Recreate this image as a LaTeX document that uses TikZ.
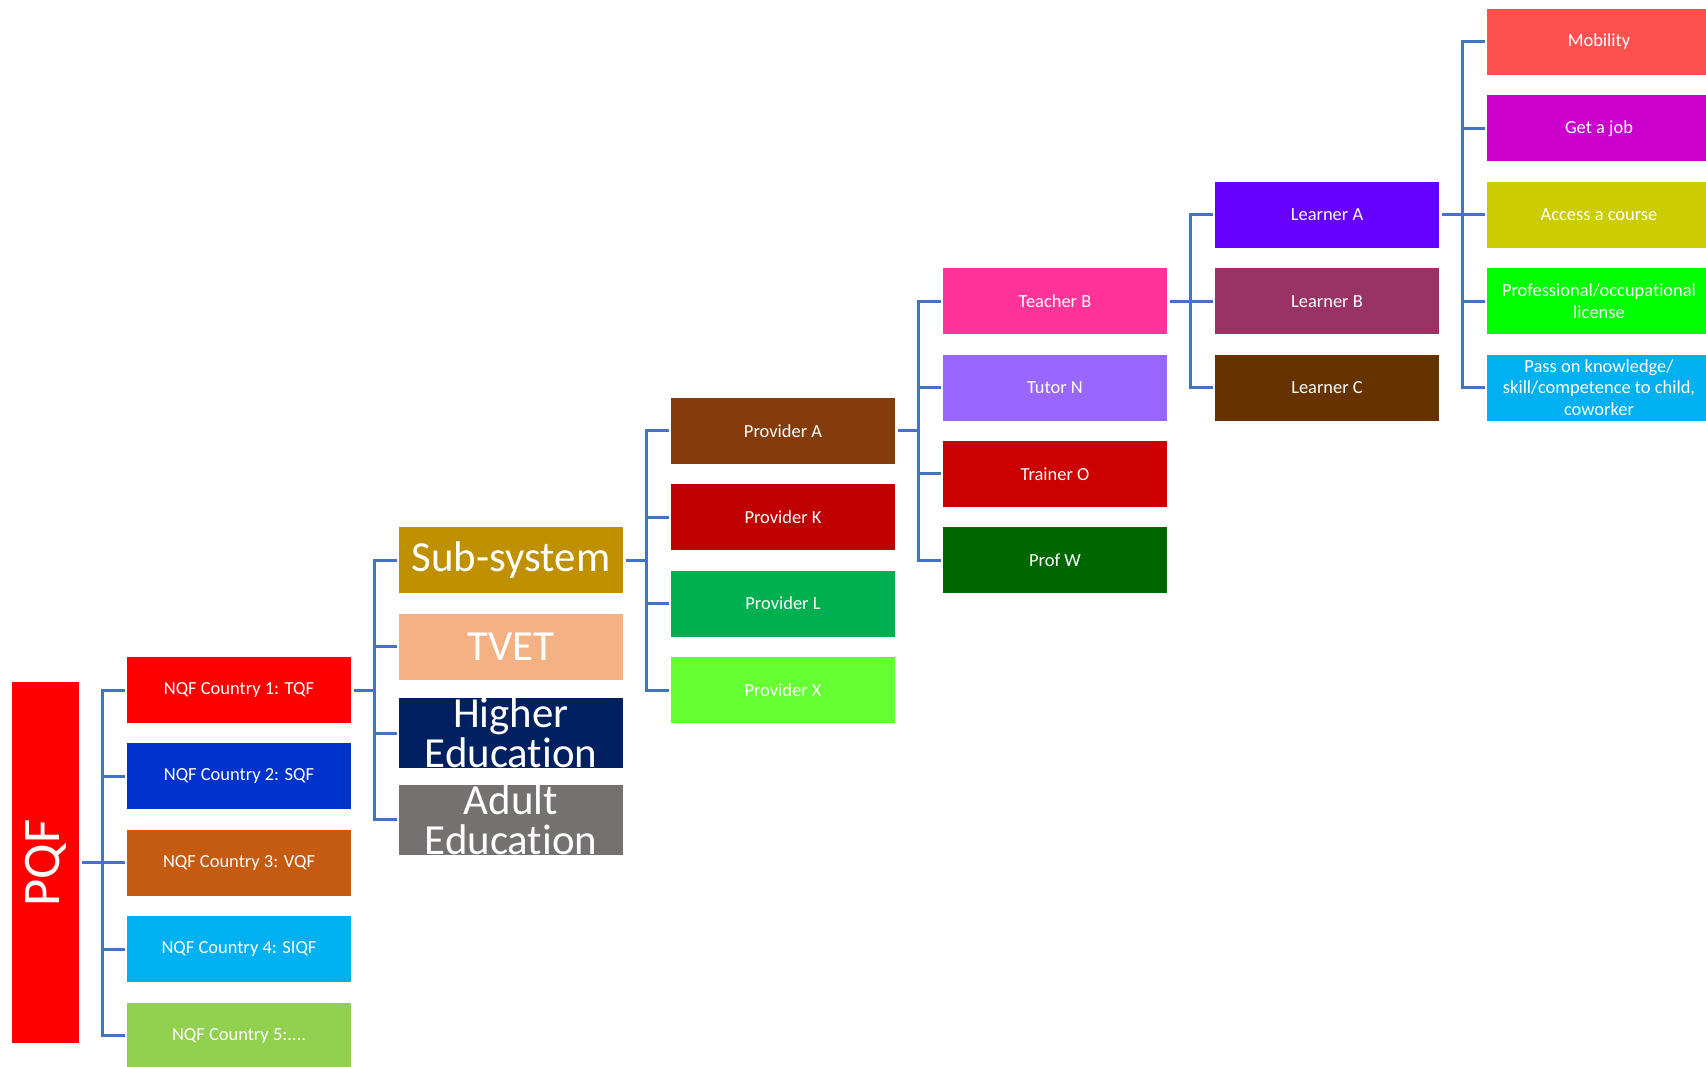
\documentclass[tikz,border=0pt]{standalone}
\usepackage{fontspec}
\setmainfont{Carlito}[Ligatures=NoCommon]
\usepackage{tikz}
\usetikzlibrary{calc}

\definecolor{linkblue}{HTML}{4472C4}

\begin{document}
\begin{tikzpicture}[x=1cm,y=1cm,
    box/.style={rectangle, inner sep=0pt, minimum width=4.48cm, minimum height=1.32cm, text=white, align=center, font=\fontsize{10.5}{12.3}\selectfont},
    bigbox/.style={box, font=\fontsize{24.4}{22.8}\selectfont},
    link/.style={draw=linkblue, line width=0.06cm}]
\useasboundingbox (0,0) rectangle (34.12,21.32);
% PQF
\node[fill={rgb,255:red,255;green,0;blue,0}, minimum width=1.34cm, minimum height=7.22cm, inner sep=0pt] (pqf) at (0.91,4.064) {};
\node[text=white, rotate=90, font=\fontsize{30}{30}\selectfont] at (pqf.center) {PQF};
% countries
\node[box, fill={rgb,255:red,255;green,0;blue,0}] (nqfA) at (4.78,7.52) {NQF Country 1: TQF};
\node[box, fill={rgb,255:red,0;green,51;blue,204}] (nqfB) at (4.78,5.792) {NQF Country 2: SQF};
\node[box, fill={rgb,255:red,197;green,90;blue,17}] (nqfC) at (4.78,4.064) {NQF Country 3: VQF};
\node[box, fill={rgb,255:red,0;green,176;blue,240}] (nqfD) at (4.78,2.336) {NQF Country 4: SIQF};
\node[box, fill={rgb,255:red,146;green,208;blue,80}] (nqfE) at (4.78,0.608) {NQF Country 5:....};
% sub-systems
\node[bigbox, fill={rgb,255:red,191;green,144;blue,0}] (subsys) at (10.22,10.112) {Sub-system};
\node[bigbox, fill={rgb,255:red,244;green,177;blue,131}] (tvet) at (10.22,8.384) {TVET};
\node[bigbox, fill={rgb,255:red,0;green,32;blue,96}] (higher) at (10.22,6.656) {Higher\\Education};
\node[bigbox, fill={rgb,255:red,118;green,113;blue,113}] (adult) at (10.22,4.928) {Adult\\Education};
% providers
\node[box, fill={rgb,255:red,132;green,60;blue,12}] (provA) at (15.66,12.704) {Provider A};
\node[box, fill={rgb,255:red,192;green,0;blue,0}] (provK) at (15.66,10.976) {Provider K};
\node[box, fill={rgb,255:red,0;green,176;blue,80}] (provL) at (15.66,9.248) {Provider L};
\node[box, fill={rgb,255:red,102;green,255;blue,51}] (provX) at (15.66,7.52) {Provider X};
% teachers
\node[box, fill={rgb,255:red,255;green,51;blue,153}] (teachB) at (21.10,15.296) {Teacher B};
\node[box, fill={rgb,255:red,153;green,102;blue,255}] (tutorN) at (21.10,13.568) {Tutor N};
\node[box, fill={rgb,255:red,204;green,0;blue,0}] (trainO) at (21.10,11.84) {Trainer O};
\node[box, fill={rgb,255:red,0;green,102;blue,0}] (profW) at (21.10,10.112) {Prof W};
% learners
\node[box, fill={rgb,255:red,102;green,0;blue,255}] (learnA) at (26.54,17.024) {Learner A};
\node[box, fill={rgb,255:red,153;green,51;blue,102}] (learnB) at (26.54,15.296) {Learner B};
\node[box, fill={rgb,255:red,102;green,51;blue,0}] (learnC) at (26.54,13.568) {Learner C};
% outcomes
\node[box, fill={rgb,255:red,255;green,80;blue,80}] (mobil) at (31.98,20.48) {Mobility};
\node[box, fill={rgb,255:red,204;green,0;blue,204}] (job) at (31.98,18.752) {Get a job};
\node[box, fill={rgb,255:red,204;green,204;blue,0}] (course) at (31.98,17.024) {Access a course};
\node[box, fill={rgb,255:red,0;green,255;blue,0}] (licence) at (31.98,15.296) {Professional/occupational\\license};
\node[box, fill={rgb,255:red,0;green,176;blue,240}] (passon) at (31.98,13.568) {Pass on knowledge/\\skill/competence to child,\\coworker};

% brackets
\draw[link] ([xshift=0.06cm]pqf.east) -- ([xshift=0.48cm]pqf.east);
\draw[link] ([xshift=-0.04cm]nqfA.west) -- ([xshift=-0.48cm]nqfA.west) -- ([xshift=-0.48cm]nqfE.west) -- ([xshift=-0.04cm]nqfE.west);
\foreach \n in {nqfB,nqfC,nqfD}
  \draw[link] ([xshift=-0.48cm]\n.west) -- ([xshift=-0.04cm]\n.west);

\draw[link] ([xshift=0.06cm]nqfA.east) -- ([xshift=0.48cm]nqfA.east);
\draw[link] ([xshift=-0.04cm]subsys.west) -- ([xshift=-0.48cm]subsys.west) -- ([xshift=-0.48cm]adult.west) -- ([xshift=-0.04cm]adult.west);
\foreach \n in {tvet,higher}
  \draw[link] ([xshift=-0.48cm]\n.west) -- ([xshift=-0.04cm]\n.west);

\draw[link] ([xshift=0.06cm]subsys.east) -- ([xshift=0.48cm]subsys.east);
\draw[link] ([xshift=-0.04cm]provA.west) -- ([xshift=-0.48cm]provA.west) -- ([xshift=-0.48cm]provX.west) -- ([xshift=-0.04cm]provX.west);
\foreach \n in {provK,provL}
  \draw[link] ([xshift=-0.48cm]\n.west) -- ([xshift=-0.04cm]\n.west);

\draw[link] ([xshift=0.06cm]provA.east) -- ([xshift=0.48cm]provA.east);
\draw[link] ([xshift=-0.04cm]teachB.west) -- ([xshift=-0.48cm]teachB.west) -- ([xshift=-0.48cm]profW.west) -- ([xshift=-0.04cm]profW.west);
\foreach \n in {tutorN,trainO}
  \draw[link] ([xshift=-0.48cm]\n.west) -- ([xshift=-0.04cm]\n.west);

\draw[link] ([xshift=0.06cm]teachB.east) -- ([xshift=0.48cm]teachB.east);
\draw[link] ([xshift=-0.04cm]learnA.west) -- ([xshift=-0.48cm]learnA.west) -- ([xshift=-0.48cm]learnC.west) -- ([xshift=-0.04cm]learnC.west);
\draw[link] ([xshift=-0.48cm]learnB.west) -- ([xshift=-0.04cm]learnB.west);

\draw[link] ([xshift=0.06cm]learnA.east) -- ([xshift=0.48cm]learnA.east);
\draw[link] ([xshift=-0.04cm]mobil.west) -- ([xshift=-0.48cm]mobil.west) -- ([xshift=-0.48cm]passon.west) -- ([xshift=-0.04cm]passon.west);
\foreach \n in {job,course,licence}
  \draw[link] ([xshift=-0.48cm]\n.west) -- ([xshift=-0.04cm]\n.west);

\end{tikzpicture}
\end{document}
